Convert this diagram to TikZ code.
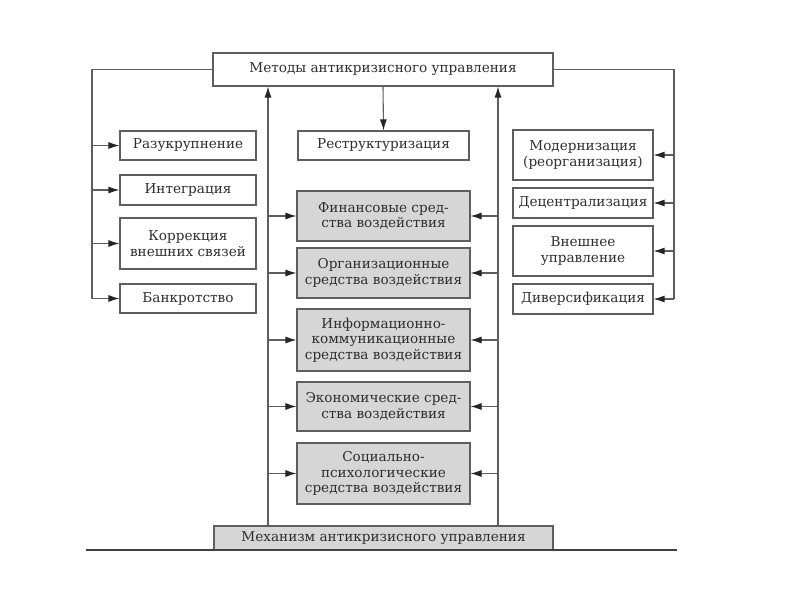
\documentclass[tikz,border=0pt]{standalone}
\usepackage{fontspec}
\setmainfont{DejaVu Serif}
\usetikzlibrary{arrows.meta}
\definecolor{linec}{HTML}{5E5E5E}
\definecolor{txtc}{HTML}{2E2E2E}
\definecolor{grayfill}{HTML}{D6D6D6}
\tikzset{
  box/.style={draw=linec, line width=1.1pt, rectangle, align=center, text=txtc,
    inner sep=0pt, font=\fontsize{13.6}{15.5}\selectfont},
  gbox/.style={box, fill=grayfill},
  conn/.style={draw=linec, line width=1.1pt},
  arr/.style={conn, -{Latex[length=11pt,width=7pt,color=black!85]}}
}
\begin{document}
\begin{tikzpicture}[x=1pt,y=-1pt]
\useasboundingbox (0,0) rectangle (800,600);
% top
\node[box, minimum width=340pt, minimum height=33pt] (top) at (383,69.5) {Методы антикризисного управления};
\node[box, minimum width=171pt, minimum height=29pt] (restr) at (383.5,145.5) {Реструктуризация};
% left
\node[box, minimum width=136pt, minimum height=29pt] (razuk) at (188,145.5) {Разукрупнение};
\node[box, minimum width=136pt, minimum height=30pt] (integr) at (188,190) {Интеграция};
\node[box, minimum width=136pt, minimum height=51pt] (korr) at (188,243.5) {Коррекция\\внешних связей};
\node[box, minimum width=136pt, minimum height=29pt] (bankr) at (188,298.5) {Банкротство};
% right
\node[box, minimum width=140pt, minimum height=50pt] (modern) at (583,155) {Модернизация\\(реорганизация)};
\node[box, minimum width=140pt, minimum height=30pt] (decentr) at (583,203) {Децентрализация};
\node[box, minimum width=140pt, minimum height=50pt] (vnesh) at (583,251) {Внешнее\\управление};
\node[box, minimum width=140pt, minimum height=30pt] (divers) at (583,299) {Диверсификация};
% gray
\node[gbox, minimum width=173pt, minimum height=50pt] (fin) at (383.5,216) {Финансовые сред-\\ства воздействия};
\node[gbox, minimum width=173pt, minimum height=50pt] (org) at (383.5,273) {Организационные\\средства воздействия};
\node[gbox, minimum width=173pt, minimum height=62pt] (inf) at (383.5,340) {Информационно-\\коммуникационные\\средства воздействия};
\node[gbox, minimum width=173pt, minimum height=49pt] (econ) at (383.5,406.5) {Экономические сред-\\ства воздействия};
\node[gbox, minimum width=173pt, minimum height=61pt] (soc) at (383.5,473.5) {Социально-\\психологические\\средства воздействия};
% mechanism
\node[gbox, minimum width=339pt, minimum height=24pt] (mech) at (383.5,538) {\raisebox{-2pt}{Механизм антикризисного управления}};
% coordinates
\coordinate (lx) at (92,0);
\coordinate (rx) at (674,0);
\coordinate (ml) at (268,0);
\coordinate (mr) at (498,0);
\coordinate (bl) at (86,550);
\coordinate (br) at (677,550);
% outer left
\draw[conn] (top.west) -| (bankr.west -| lx);
\foreach \n in {razuk,integr,korr,bankr}{\draw[arr] (\n.west -| lx) -- (\n.west);}
% outer right
\draw[conn] (top.east) -| (divers.east -| rx);
\foreach \n in {modern,decentr,vnesh,divers}{\draw[arr] (\n.east -| rx) -- (\n.east);}
% down arrow
\draw[arr] (top.south) -- (restr.north);
% middle verticals
\draw[arr] (mech.north -| ml) -- (top.south -| ml);
\draw[arr] (mech.north -| mr) -- (top.south -| mr);
\foreach \n in {fin,org,inf,econ,soc}{
  \draw[arr] (\n.west -| ml) -- (\n.west);
  \draw[arr] (\n.east -| mr) -- (\n.east);
}
% bottom rule
\draw[line width=1.4pt, draw=black!75] (bl) -- (br);
\end{tikzpicture}
\end{document}
